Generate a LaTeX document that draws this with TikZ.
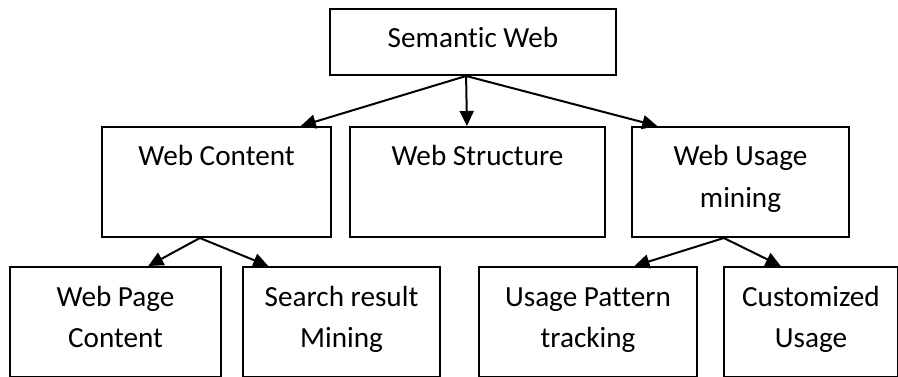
\documentclass[tikz,border=0pt]{standalone}
\usepackage{fontspec}
\setmainfont{Carlito}[Ligatures=NoCommon]
\usetikzlibrary{calc,arrows.meta}
\tikzset{box/.style={draw,line width=1.5pt,inner sep=0pt,anchor=north west,align=center,
  text height=29.25pt,text depth=53.25pt,font=\fontsize{21.9}{31.3}\selectfont},
  twoline/.style={text height=60.55pt,text depth=21.95pt},
  arr/.style={line width=1.5pt,-{Triangle[length=11.25pt,width=10.5pt]}}}

\begin{document}
\begin{tikzpicture}[x=1pt,y=-1pt]
\useasboundingbox(0,0)rectangle(673.5,282.75);
\node[box,minimum width=214.5pt,text depth=20.25pt](sem)at(246.75,6){Semantic Web};
\node[box,minimum width=171.75pt](wc)at(75.75,94.5){Web Content};
\node[box,minimum width=191.25pt](ws)at(261.75,94.5){Web Structure};
\node[box,twoline,minimum width=162.75pt](wu)at(473.25,94.5){Web Usage\\mining};
\node[box,twoline,minimum width=158.25pt](wpc)at(6.75,199.5){Web Page\\Content};
\node[box,twoline,minimum width=147.75pt](srm)at(181.5,199.5){Search result\\Mining};
\node[box,twoline,minimum width=163.5pt](upt)at(358.5,199.5){Usage Pattern\\tracking};
\node[box,twoline,minimum width=130.5pt](cu)at(542.25,199.5){Customized\\Usage};
\coordinate(s0)at($(sem.south west)!0.476!(sem.south east)$);
\coordinate(c0)at($(wc.south west)!0.428!(wc.south east)$);
\coordinate(u0)at($(wu.south west)!0.424!(wu.south east)$);
\draw[arr](s0)--($(wc.north west)!0.865!(wc.north east)$);
\draw[arr](s0)--($(ws.north west)!0.459!(ws.north east)$);
\draw[arr](s0)--($(wu.north west)!0.12!(wu.north east)$);
\draw[arr](c0)--($(wpc.north west)!0.654!(wpc.north east)$);
\draw[arr](c0)--($(srm.north west)!0.132!(srm.north east)$);
\draw[arr](u0)--($(upt.north west)!0.711!(upt.north east)$);
\draw[arr](u0)--($(cu.north west)!0.328!(cu.north east)$);
\end{tikzpicture}
\end{document}
